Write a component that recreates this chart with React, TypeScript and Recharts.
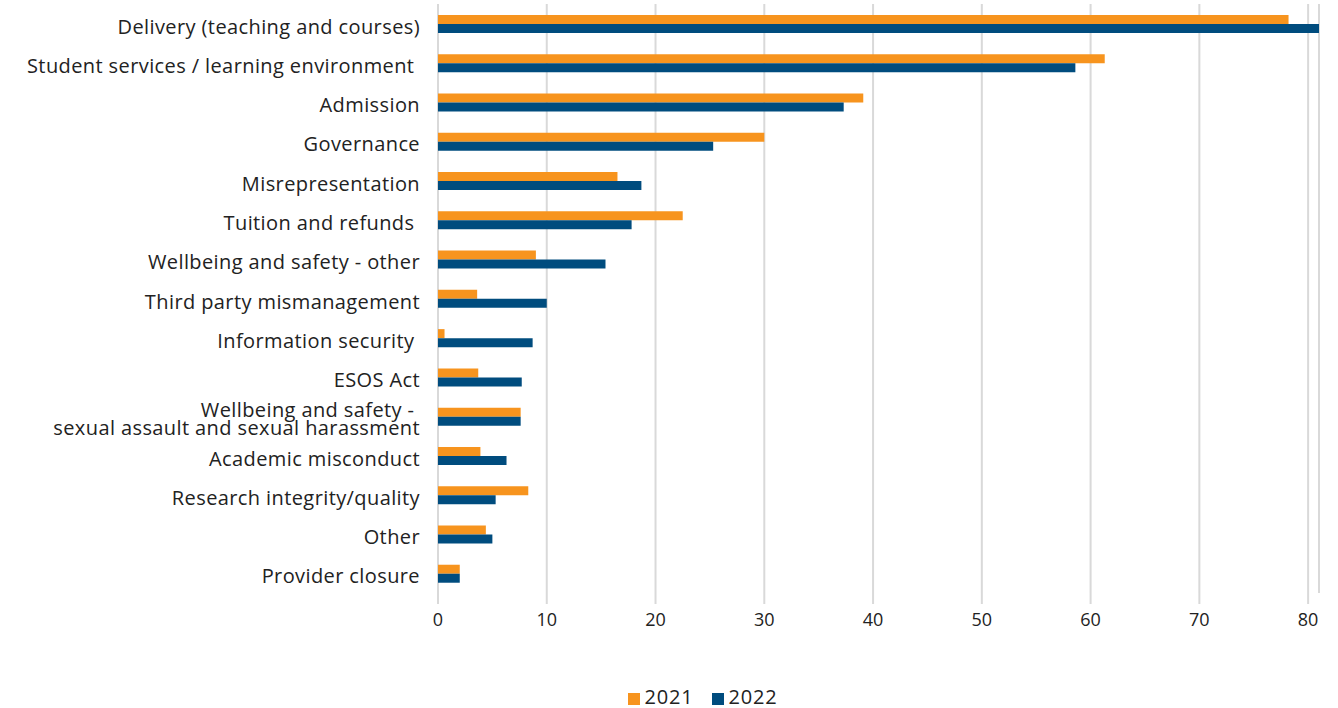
import React from "react";
import {
  BarChart,
  Bar,
  XAxis,
  YAxis,
  CartesianGrid,
  Legend,
} from "recharts";

const categories = [
  "Delivery (teaching and courses)",
  "Student services / learning environment ",
  "Admission",
  "Governance",
  "Misrepresentation",
  "Tuition and refunds ",
  "Wellbeing and safety - other",
  "Third party mismanagement",
  "Information security ",
  "ESOS Act",
  "Wellbeing and safety - \nsexual assault and sexual harassment",
  "Academic misconduct",
  "Research integrity/quality",
  "Other",
  "Provider closure",
];

const values2021 = [78.2, 61.3, 39.1, 30.0, 16.5, 22.5, 9.0, 3.6, 0.6, 3.7, 7.6, 3.9, 8.3, 4.4, 2.0];
const values2022 = [81, 58.6, 37.3, 25.3, 18.7, 17.8, 15.4, 10.0, 8.7, 7.7, 7.6, 6.3, 5.3, 5.0, 2.0];
const xTicks = [0, 10, 20, 30, 40, 50, 60, 70, 80];

const data = categories.map((name, i) => ({
  name,
  y2021: values2021[i],
  y2022: values2022[i],
}));

const FONT = "'Open Sans', Lato, sans-serif";

function CategoryTick(props: any) {
  const { x, y, payload } = props;
  const lines = String(payload.value).split("\n");
  const lineH = 18;
  const startDy = -((lines.length - 1) * lineH) / 2 + 10;
  return (
    <text
      x={x}
      y={y}
      textAnchor="end"
      fill="#222"
      fontSize={20}
      letterSpacing={0.4}
      fontFamily={FONT}
      style={{ whiteSpace: "pre" }}
    >
      {lines.map((l, i) => (
        <tspan key={i} x={x} dy={i === 0 ? startDy : lineH}>
          {l}
        </tspan>
      ))}
    </text>
  );
}

export default function App() {
  return (
    <div style={{ position: "absolute", left: 0, top: 0, background: "#fff" }}>
      <BarChart
        width={1338}
        height={708}
        data={data}
        layout="vertical"
        margin={{ top: 4, right: 19, bottom: 0, left: 0 }}
        barGap={0}
        barSize={9}
      >
        <CartesianGrid horizontal={false} stroke="#d9d9d9" strokeWidth={2} />
        <XAxis
          type="number"
          domain={[0, 81]}
          ticks={xTicks}
          interval={0}
          axisLine={false}
          tickLine={{ stroke: "#d9d9d9", strokeWidth: 2 }}
          tickSize={11}
          tickMargin={9}
          height={85}
          tick={{ fill: "#222", fontSize: 18, fontFamily: FONT }}
        />
        <YAxis
          type="category"
          dataKey="name"
          width={438}
          axisLine={false}
          tickLine={false}
          tickMargin={12}
          interval={0}
          tick={<CategoryTick />}
        />
        <Legend
          verticalAlign="bottom"
          height={30}
          iconType="square"
          iconSize={12}
          wrapperStyle={{ fontFamily: FONT, fontSize: 20, color: "#222", bottom: -5, left: 52 }}
          formatter={(v: string) => (
            <span style={{ color: "#222", marginLeft: 1, marginRight: 8, letterSpacing: 0.8 }}>{v}</span>
          )}
        />
        <Bar dataKey="y2021" name="2021" fill="#F7941E" isAnimationActive={false} />
        <Bar dataKey="y2022" name="2022" fill="#004C7E" isAnimationActive={false} />
      </BarChart>
    </div>
  );
}
